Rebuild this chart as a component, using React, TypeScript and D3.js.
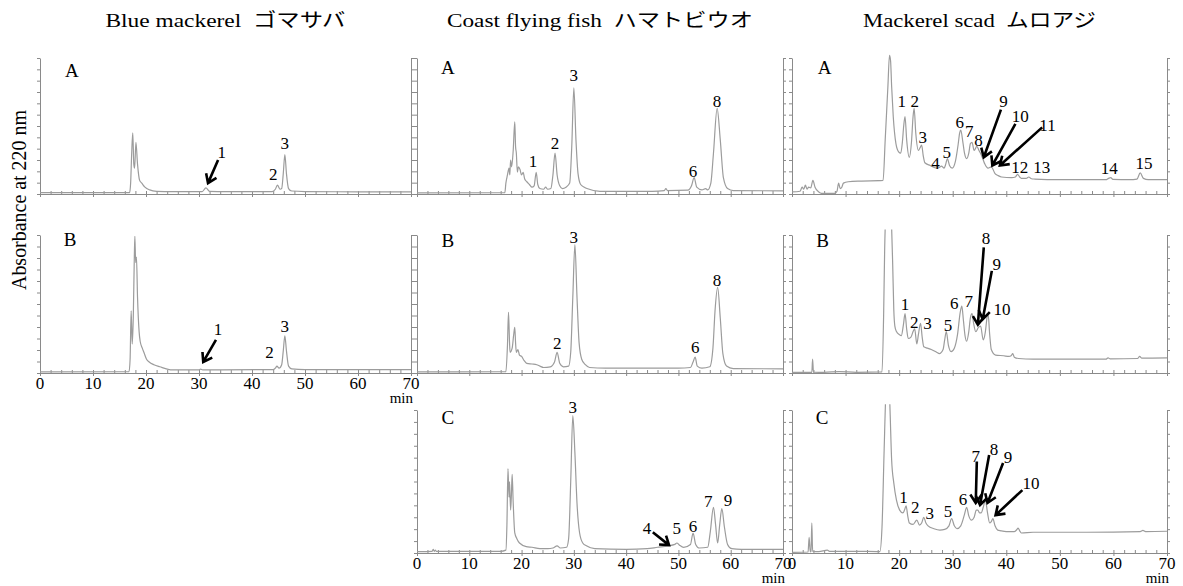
import React, { useEffect, useRef } from 'react';
import * as d3 from 'd3';

type Pt = [number, number];                      // [min, % of panel height]
type Note = [string, number, number];            // [text, min, level]
type Arrow = [number, number, number, number];   // from (min, level) to (min, level)

// ---- traces ----
const blueA: Pt[] = [[0, 1], [16.9, 1], [17.1, 8], [17.3, 30], [17.5, 45], [17.7, 22], [17.85, 19], [18.1, 38], [18.4, 22], [18.8, 10], [19.2, 8], [19.8, 5], [20.7, 3], [22, 2], [25, 1.7], [30.6, 1.8], [31.3, 4.5], [32, 2], [35, 1.7], [43.8, 1.8], [44.4, 3.5], [44.8, 6.5], [45.3, 3.5], [45.6, 4], [45.9, 15], [46.2, 29], [46.5, 15], [46.9, 4], [47.5, 2.2], [50, 1.8], [60, 1.6], [70, 1.5]];

const blueB: Pt[] = [[0, 0.8], [16.8, 1], [17.0, 10], [17.2, 45], [17.4, 21], [17.6, 40], [17.8, 85], [17.9, 99], [18.05, 80], [18.2, 84], [18.4, 55], [18.7, 30], [18.9, 23], [19.3, 18], [19.6, 15], [20.1, 10], [20.6, 8], [21.5, 6], [22.6, 4.5], [25, 2.2], [30, 2.2], [30.3, 2.8], [30.7, 2.2], [44, 2.5], [44.5, 4], [44.7, 5], [45.1, 3.5], [45.6, 6], [45.9, 16], [46.2, 27], [46.5, 16], [46.9, 5], [47.5, 3], [50, 2.5], [70, 2.5]];

const coastA: Pt[] = [[0, 0.8], [16.8, 1], [17.0, 8], [17.3, 14], [17.6, 19], [17.75, 14], [17.9, 25], [18.1, 20], [18.4, 32], [18.7, 53], [18.85, 35], [19.0, 30], [19.2, 16], [19.4, 20], [19.7, 18], [20.0, 14], [20.3, 16], [20.6, 11], [21.0, 9], [21.5, 7], [22.0, 5], [22.4, 6], [22.8, 16], [23.1, 7], [23.5, 4], [24.2, 3.5], [24.6, 5], [25.0, 3.5], [25.6, 4], [26.0, 14], [26.4, 30], [26.8, 14], [27.3, 6], [27.8, 4], [28.5, 5], [29.2, 8], [29.6, 35], [30.0, 78], [30.4, 40], [30.8, 15], [31.3, 7], [32.0, 5], [32.5, 4], [35, 2], [45, 2], [47.3, 2.5], [47.6, 4], [47.9, 2.5], [51.8, 2.8], [52.5, 6], [53.0, 12], [53.5, 5], [54.5, 3], [55.2, 4], [55.6, 3], [56.2, 8], [56.7, 30], [57.4, 63], [58.0, 40], [58.6, 12], [59.4, 4], [60.5, 2.5], [70, 2.3]];

const coastB: Pt[] = [[0, 0.8], [17.0, 1], [17.3, 20], [17.5, 44], [17.7, 22], [17.8, 15], [18.2, 18], [18.5, 28], [18.7, 33], [18.85, 22], [19.0, 15], [19.3, 17], [19.6, 13], [20.0, 12], [20.5, 9], [21.0, 7], [22.0, 6.5], [22.9, 6], [23.5, 5], [24.2, 4], [25.5, 4.5], [26.3, 8], [26.8, 15], [27.3, 7], [28, 4.5], [29.0, 5], [29.4, 15], [29.8, 55], [30.2, 93], [30.6, 55], [31.0, 22], [31.5, 10], [32.2, 6], [33, 4], [36, 3.5], [50, 3.5], [52.3, 4], [52.8, 8], [53.2, 11.5], [53.6, 5], [54.5, 3.5], [56.0, 4.5], [56.6, 18], [57.0, 45], [57.5, 62], [58.0, 40], [58.5, 14], [59.2, 5], [60.5, 3.2], [70, 3]];

const coastC: Pt[] = [[0, 1], [2.9, 1.2], [3.1, 2.5], [3.3, 1.2], [3.5, 2], [3.7, 1.2], [16, 1.2], [17.0, 2], [17.2, 20], [17.4, 59], [17.6, 39], [17.7, 50], [17.9, 30], [18.05, 40], [18.2, 55], [18.4, 35], [18.7, 14], [19.1, 10], [19.6, 7], [20.9, 4.5], [22, 4], [23.5, 3], [25, 3], [26, 3.5], [26.8, 5], [27.4, 3.5], [28.6, 4], [29.0, 10], [29.4, 50], [29.8, 96], [30.2, 70], [30.6, 35], [31.1, 14], [31.7, 7], [32.4, 5], [34, 3], [40, 2.5], [44, 3], [46, 4], [48, 5], [49.3, 6], [49.7, 7], [50.2, 5.5], [51, 4], [52.3, 6], [52.8, 14], [53.3, 6], [54, 3.5], [55.6, 4], [56.1, 15], [56.7, 32], [57.1, 20], [57.5, 7], [57.9, 20], [58.3, 31], [58.8, 18], [59.4, 6], [60.2, 3], [62, 2.5], [70, 2.5]];

const scadA: Pt[] = [[0, 1.5], [1.5, 2], [1.9, 5], [2.2, 3.5], [2.5, 6.5], [2.8, 3.5], [3.1, 5], [3.5, 4.5], [3.9, 10], [4.3, 5], [5.0, 1.5], [5.5, 0.5], [8.0, 0.5], [8.4, 2], [8.7, 8], [9.0, 4], [9.3, 5], [9.6, 8], [10.5, 9], [13, 9.5], [17.0, 10], [17.4, 40], [17.9, 79], [18.2, 102], [18.4, 98], [18.6, 79], [18.9, 57], [19.4, 37], [19.9, 31], [20.3, 30], [20.6, 38], [20.85, 50], [21.1, 57], [21.4, 40], [21.9, 27], [22.3, 38], [22.6, 57], [22.8, 63], [23.1, 45], [23.6, 32], [23.9, 34], [24.2, 36], [24.5, 28], [24.8, 23], [25.8, 21], [27.0, 19], [27.5, 19.5], [27.9, 20.5], [28.4, 19], [28.7, 22], [29.0, 26], [29.4, 21], [29.9, 19], [30.5, 24], [31.0, 36], [31.3, 45], [31.5, 47], [31.9, 38], [32.2, 30], [32.6, 26], [33.0, 30], [33.3, 37], [33.6, 38], [34.0, 32], [34.5, 35], [34.9, 32], [35.3, 29], [35.7, 25], [36.0, 22], [36.6, 19], [37.2, 20], [37.9, 15], [38.5, 13.5], [39.1, 12.5], [41.0, 12], [41.7, 12.5], [42.1, 14.5], [42.5, 12.5], [42.8, 11.5], [43.7, 11.5], [44.2, 12.5], [44.7, 11.2], [45.3, 11], [50, 10.5], [58.6, 10.5], [59.1, 11.5], [59.5, 12], [59.9, 10.8], [63, 10.5], [64.4, 11], [65.0, 15.5], [65.6, 11.5], [66.5, 10.5], [70, 10.5]];

const scadB: Pt[] = [[0, 0.5], [3.7, 0.5], [3.85, 10], [4.0, 0.7], [6, 0.5], [8.8, 1], [12, 0.5], [16.8, 0.8], [17.1, 41], [17.3, 90], [17.5, 115], [18.0, 130], [18.4, 118], [18.6, 105], [18.8, 78], [19.0, 46], [19.2, 34], [19.5, 30], [20.0, 28], [20.4, 27], [20.8, 35], [21.1, 43], [21.4, 32], [21.7, 25], [22.2, 26], [22.6, 30], [22.9, 32], [23.3, 21], [23.6, 28], [24.0, 36], [24.3, 26], [24.6, 19], [25.3, 18], [26.0, 17], [27.0, 15], [27.5, 14], [28.2, 17], [28.5, 24], [28.8, 30], [29.2, 20], [29.7, 15.5], [30.3, 18], [30.9, 28], [31.4, 44], [31.7, 48.5], [32.0, 38], [32.3, 27], [32.6, 23], [33.0, 30], [33.3, 40], [33.6, 43], [33.9, 36], [34.3, 30], [34.8, 33], [35.2, 34], [35.7, 24], [36.1, 30], [36.4, 40], [36.6, 43], [36.9, 28], [37.2, 17], [38.0, 13], [39.5, 12.5], [40.5, 12], [40.9, 12.5], [41.2, 14], [41.5, 11.5], [42.3, 10.5], [45, 10], [58.6, 10], [59.0, 11], [59.4, 10.2], [64.5, 10.5], [64.9, 12], [65.3, 10.8], [70, 11]];

const scadC: Pt[] = [[0, 0.5], [3.0, 0.7], [3.2, 11], [3.4, 0.8], [3.55, 1], [3.7, 21], [3.85, 1.2], [5, 1], [6.6, 2], [7, 1.2], [12, 1.2], [16.4, 1], [16.8, 18], [17.2, 72], [17.5, 110], [18.0, 130], [18.3, 100], [18.6, 65], [19.0, 49], [19.5, 37], [20.1, 30], [20.7, 28], [21.0, 30], [21.3, 33], [21.6, 26], [21.9, 21], [22.6, 20], [23.3, 23], [23.8, 19.5], [24.2, 21], [24.6, 25], [25.0, 21], [25.4, 19], [26.5, 17], [27.6, 16], [28.5, 16.5], [29.3, 19], [29.8, 24], [30.3, 19], [30.8, 17], [31.5, 19], [32.2, 27], [32.6, 32], [33.0, 26], [33.5, 23], [34.0, 25], [34.4, 30], [34.7, 30], [35.0, 28], [35.3, 28], [35.7, 32], [36.1, 37], [36.5, 28], [36.9, 21], [37.2, 22], [37.5, 24], [37.9, 19], [38.4, 16], [39.0, 15.5], [40.0, 15], [41.5, 15], [42.0, 16.5], [42.2, 17.5], [42.5, 15.5], [42.8, 14], [45, 14.5], [55, 14.5], [65, 15], [65.5, 15.8], [66, 15], [70, 15.2]];

// ---- peak numbers and arrows ----
const blueANotes: Note[] = [['A', 6, 91], ['1', 34.3, 31], ['2', 44, 15], ['3', 46.2, 37.5]];
const blueAArrows: Arrow[] = [[33.6, 25, 31.7, 8]];
const blueBNotes: Note[] = [['B', 5.7, 97], ['1', 33.6, 32], ['2', 43.3, 15], ['3', 46.2, 34]];
const blueBArrows: Arrow[] = [[33.2, 24, 30.8, 8]];
const coastANotes: Note[] = [['A', 5.9, 93], ['1', 22.2, 24], ['2', 26.4, 37.5], ['3', 30, 87.5], ['6', 52.8, 17], ['8', 57.4, 68]];
const coastBNotes: Note[] = [['B', 5.9, 96], ['2', 26.8, 22], ['3', 30, 98.5], ['6', 53.2, 19], ['8', 57.4, 67]];
const coastCNotes: Note[] = [['C', 5.9, 95], ['3', 29.8, 102], ['4', 44, 17.5], ['5', 49.7, 17.5], ['6', 52.8, 19], ['7', 55.7, 36], ['9', 59.5, 37]];
const coastCArrows: Arrow[] = [[45.1, 14.5, 48.2, 5.5]];
const scadANotes: Note[] = [['A', 6.1, 93], ['1', 20.5, 68], ['2', 22.9, 68], ['3', 24.4, 42], ['4', 26.8, 23], ['5', 28.9, 31], ['6', 31.3, 53], ['7', 33.1, 46], ['8', 34.8, 40], ['9', 39.5, 68], ['10', 42.6, 57], ['11', 47.7, 51], ['12', 42.5, 20], ['13', 46.6, 20], ['14', 59.2, 19], ['15', 65.7, 23]];
const scadAArrows: Arrow[] = [[39, 62, 35.8, 27], [41.7, 51.5, 37.4, 21], [46.7, 49, 38.8, 21]];
const scadBNotes: Note[] = [['B', 5.7, 96], ['1', 21.1, 50], ['2', 22.8, 37], ['3', 25.3, 36], ['5', 29.1, 35], ['6', 30.3, 51], ['7', 33, 52], ['8', 36.2, 98], ['9', 38.2, 79], ['10', 39.2, 46]];
const scadBArrows: Arrow[] = [[35.8, 91, 34.7, 35], [37.3, 74, 35.6, 39]];
const scadCNotes: Note[] = [['C', 5.6, 95], ['1', 20.8, 39], ['2', 23, 32], ['3', 25.7, 28], ['5', 29.1, 29], ['6', 31.9, 38], ['7', 34.3, 68], ['8', 37.7, 73], ['9', 40.3, 67], ['10', 44.6, 49]];
const scadCArrows: Arrow[] = [[34.5, 64, 34.3, 35], [36.8, 68.5, 35.1, 33.5], [39.4, 63, 36.5, 35], [43, 44, 38, 26.5]];

const titles = ['Blue mackerel\u2002ゴマサバ', 'Coast flying fish\u2002ハマトビウオ', 'Mackerel scad\u2002ムロアジ'];
const titleWidths = [240, 306, 233];
const xTickLabels = [0, 10, 20, 30, 40, 50, 60, 70];
const yTitle = 'Absorbance at 220 nm';

const columns: [number, number][] = [[40, 411], [417, 783], [792, 1167]];
const rows: [number, number][] = [[58, 194], [235, 373], [410, 553]];

const panels = [
  { col: 0, row: 0, trace: blueA, notes: blueANotes, arrows: blueAArrows, labels: false },
  { col: 0, row: 1, trace: blueB, notes: blueBNotes, arrows: blueBArrows, labels: true },
  { col: 1, row: 0, trace: coastA, notes: coastANotes, arrows: [] as Arrow[], labels: false },
  { col: 1, row: 1, trace: coastB, notes: coastBNotes, arrows: [] as Arrow[], labels: false },
  { col: 1, row: 2, trace: coastC, notes: coastCNotes, arrows: coastCArrows, labels: true },
  { col: 2, row: 0, trace: scadA, notes: scadANotes, arrows: scadAArrows, labels: false },
  { col: 2, row: 1, trace: scadB, notes: scadBNotes, arrows: scadBArrows, labels: false },
  { col: 2, row: 2, trace: scadC, notes: scadCNotes, arrows: scadCArrows, labels: true },
];

const FONT = '"Liberation Serif", "Times New Roman", "Noto Sans CJK JP", serif';
const AXIS = '#8a8a8a';
const TRACE = '#9c9c9c';

export default function App() {
  const ref = useRef<SVGSVGElement>(null);

  useEffect(() => {
    const svg = d3.select(ref.current);
    svg.selectAll('*').remove();

    svg.selectAll('text.title')
      .data(titles)
      .enter().append('text')
      .attr('class', 'title')
      .attr('x', (d, i) => (columns[i][0] + columns[i][1]) / 2)
      .attr('y', 27)
      .attr('text-anchor', 'middle')
      .attr('font-size', 19)
      .attr('textLength', (d, i) => titleWidths[i])
      .attr('lengthAdjust', 'spacingAndGlyphs')
      .text(d => d);

    svg.append('text')
      .attr('transform', 'translate(26,200) rotate(-90)')
      .attr('text-anchor', 'middle')
      .attr('font-size', 20)
      .attr('textLength', 180)
      .attr('lengthAdjust', 'spacingAndGlyphs')
      .text(yTitle);

    panels.forEach((p, i) => {
      const [x0, x1] = columns[p.col];
      const [top, base] = rows[p.row];
      const x = d3.scaleLinear().domain([0, 70]).range([x0, x1]);
      const y = d3.scaleLinear().domain([0, 100]).range([base, top]);
      const g = svg.append('g');

      // left axis with small ticks
      g.append('g')
        .attr('transform', `translate(${x0},0)`)
        .call(d3.axisLeft(y).tickValues(d3.range(0, 101, 100 / 12)).tickSize(3).tickSizeOuter(0).tickFormat(() => ''));
      // right frame
      g.append('g')
        .attr('transform', `translate(${x1},0)`)
        .call(d3.axisRight(y).tickValues(d3.range(0, 101, 100 / 12)).tickSize(3).tickSizeOuter(0).tickFormat(() => ''));
      // time axis
      g.append('g')
        .attr('transform', `translate(0,${base})`)
        .call(d3.axisBottom(x).tickValues(d3.range(0, 71, 2)).tickSize(-3).tickSizeOuter(0).tickFormat(() => ''));
      g.append('g')
        .attr('transform', `translate(0,${base})`)
        .call(d3.axisBottom(x).tickValues(xTickLabels).tickSize(3).tickSizeOuter(0).tickFormat(() => ''));

      g.selectAll('path.domain, line').attr('stroke', AXIS).attr('stroke-width', 1);

      if (p.labels) {
        g.selectAll('text.tick')
          .data(xTickLabels)
          .enter().append('text')
          .attr('x', d => x(d))
          .attr('y', base + 16)
          .attr('text-anchor', 'middle')
          .attr('font-size', 17)
          .text(d => d);
        g.append('text')
          .attr('x', x1 + 2)
          .attr('y', base + 30)
          .attr('text-anchor', 'end')
          .attr('font-size', 15)
          .text('min');
      }

      svg.append('clipPath').attr('id', `clip${i}`)
        .append('rect')
        .attr('x', x0).attr('y', y(104))
        .attr('width', x1 - x0).attr('height', base - y(104));

      const line = d3.line<Pt>()
        .x(d => x(d[0]))
        .y(d => y(d[1]))
        .curve(d3.curveMonotoneX);

      g.append('path')
        .datum(p.trace)
        .attr('clip-path', `url(#clip${i})`)
        .attr('fill', 'none')
        .attr('stroke', TRACE)
        .attr('stroke-width', 1.2)
        .attr('d', line);

      g.selectAll('text.note')
        .data(p.notes)
        .enter().append('text')
        .attr('x', d => x(d[1]))
        .attr('y', d => y(d[2]))
        .attr('dy', '0.35em')
        .attr('text-anchor', 'middle')
        .attr('font-size', d => (/[A-C]/.test(d[0]) ? 19 : 17))
        .text(d => d[0]);

      p.arrows.forEach(a => {
        const xa = x(a[0]), ya = y(a[1]), xb = x(a[2]), yb = y(a[3]);
        const ang = Math.atan2(ya - yb, xa - xb);
        const head = (da: number) => [xb + 10 * Math.cos(ang + da), yb + 10 * Math.sin(ang + da)];
        const [h1x, h1y] = head(0.6);
        const [h2x, h2y] = head(-0.6);
        g.append('path')
          .attr('d', `M${xa},${ya}L${xb},${yb}M${h1x},${h1y}L${xb},${yb}L${h2x},${h2y}`)
          .attr('fill', 'none')
          .attr('stroke', '#000')
          .attr('stroke-width', 2.6);
      });
    });
  }, []);

  return (
    <svg
      ref={ref}
      width={1183}
      height={586}
      style={{ position: 'absolute', left: 0, top: 0, background: '#fff', fontFamily: FONT }}
    />
  );
}
